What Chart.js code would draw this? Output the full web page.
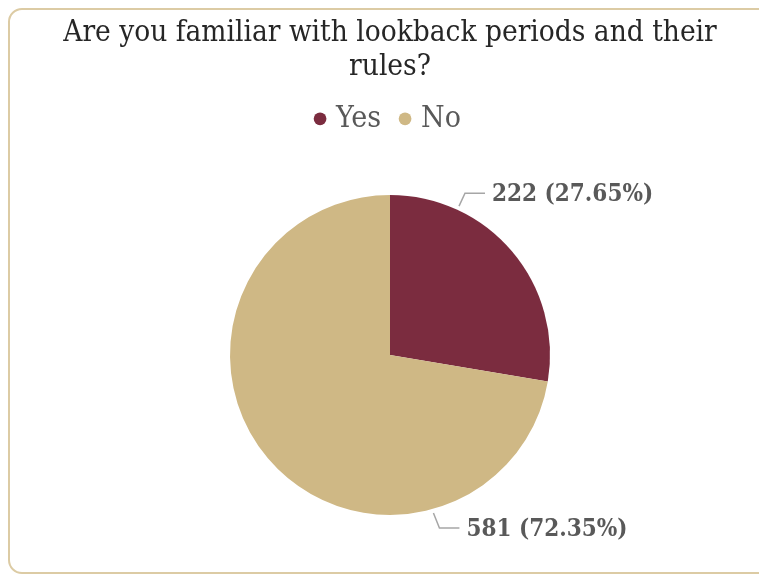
<!DOCTYPE html>
<html lang="en">
<head>
    <meta charset="UTF-8">
    <title>Lookback periods survey</title>
    <script src="https://cdn.jsdelivr.net/npm/chart.js"></script>
    <style>
        html, body {
            margin: 0;
            padding: 0;
            background-color: #fff;
            overflow: hidden;
        }
        .frame {
            position: absolute;
            left: 8px;
            top: 8px;
            width: 780px;
            height: 562px;
            border: 2px solid #DCCBA4;
            border-radius: 14px;
        }
        .chart-box {
            position: absolute;
            left: 0;
            top: 0;
            width: 759px;
            height: 575px;
        }
    </style>
</head>
<body>
    <div class="frame"></div>
    <div class="chart-box">
        <canvas id="surveyChart"></canvas>
    </div>

    <script>
        // survey answers
        var answers = ['Yes', 'No'];
        var counts = [222, 581];
        var percents = [27.65, 72.35];
        var sliceColors = ['#7B2C3F', '#CFB885'];

        var serif = '"DejaVu Serif Condensed", "DejaVu Serif", serif';

        // value labels with little elbow leader lines
        var leaderLabels = {
            id: 'leaderLabels',
            afterDatasetsDraw: function(chart) {
                var ctx = chart.ctx;
                var meta = chart.getDatasetMeta(0);
                ctx.save();
                ctx.font = 'bold 24px ' + serif;
                ctx.textBaseline = 'middle';
                ctx.textAlign = 'left';
                meta.data.forEach(function(arc, i) {
                    var a = arc.startAngle + (arc.endAngle - arc.startAngle) * 0.25;
                    var r = arc.outerRadius + 4;
                    var x0 = arc.x + Math.cos(a) * r;
                    var y0 = arc.y + Math.sin(a) * r;
                    var up = Math.sin(a) < 0;
                    var x1 = x0 + 6;
                    var y1 = y0 + (up ? -13 : 15);
                    var x2 = x1 + 20;
                    ctx.strokeStyle = '#A6A6A6';
                    ctx.lineWidth = 1.5;
                    ctx.beginPath();
                    ctx.moveTo(x0, y0);
                    ctx.lineTo(x1, y1);
                    ctx.lineTo(x2, y1);
                    ctx.stroke();
                    ctx.fillStyle = '#595959';
                    ctx.fillText(counts[i] + ' (' + percents[i].toFixed(2) + '%)', x2 + 7, y1 + 2);
                });
                ctx.restore();
            }
        };

        var ctx = document.getElementById('surveyChart').getContext('2d');
        new Chart(ctx, {
            type: 'pie',
            data: {
                labels: answers,
                datasets: [{
                    data: counts,
                    backgroundColor: sliceColors,
                    borderWidth: 0,
                    radius: 160
                }]
            },
            options: {
                responsive: true,
                maintainAspectRatio: false,
                animation: false,
                layout: {
                    padding: { top: 6, left: 21, right: 0, bottom: 9 }
                },
                plugins: {
                    title: {
                        display: true,
                        text: ['Are you familiar with lookback periods and their', 'rules?'],
                        color: '#262626',
                        font: { family: serif, size: 29.5, weight: 'normal', lineHeight: 1.15 },
                        padding: { top: 10, bottom: -3 }
                    },
                    legend: {
                        position: 'top',
                        labels: {
                            usePointStyle: true,
                            pointStyle: 'circle',
                            boxWidth: 2,
                            boxHeight: 9,
                            padding: 23,
                            color: '#595959',
                            font: { family: serif, size: 30 }
                        }
                    },
                    tooltip: { enabled: false }
                }
            },
            plugins: [leaderLabels]
        });
    </script>
</body>
</html>
